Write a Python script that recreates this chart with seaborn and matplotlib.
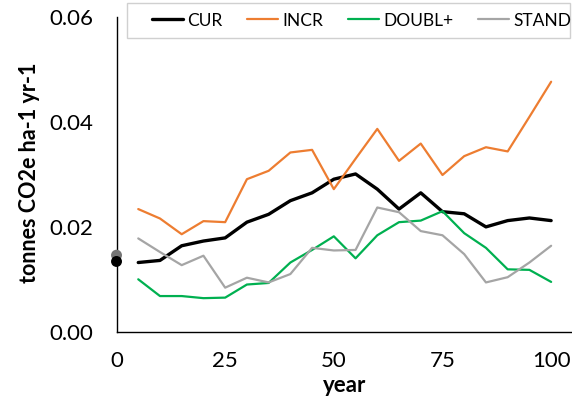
import matplotlib
matplotlib.use("Agg")
import matplotlib.pyplot as plt
from matplotlib.patches import Rectangle
import seaborn as sns
import pandas as pd

sns.set_theme(style="white")
plt.rcParams["font.family"] = ["Lato", "DejaVu Sans"]

# Emissions per scenario, 5-year steps
years = [5, 10, 15, 20, 25, 30, 35, 40, 45, 50, 55, 60, 65, 70, 75, 80, 85, 90, 95, 100]
cur = [0.0132, 0.0136, 0.0164, 0.0173, 0.0179, 0.0209, 0.0224, 0.0250, 0.0265, 0.0291,
       0.0301, 0.0272, 0.0234, 0.0265, 0.0229, 0.0225, 0.0200, 0.0212, 0.0217, 0.0212]
incr = [0.0234, 0.0216, 0.0186, 0.0211, 0.0209, 0.0291, 0.0307, 0.0342, 0.0347, 0.0272,
        0.0330, 0.0387, 0.0326, 0.0359, 0.0299, 0.0335, 0.0352, 0.0344, 0.0410, 0.0477]
doubl = [0.0100, 0.0068, 0.0068, 0.0064, 0.0065, 0.0090, 0.0093, 0.0132, 0.0156, 0.0182,
         0.0140, 0.0184, 0.0209, 0.0212, 0.0230, 0.0188, 0.0160, 0.0119, 0.0118, 0.0095]
stand = [0.0178, 0.0152, 0.0127, 0.0145, 0.0084, 0.0103, 0.0094, 0.0110, 0.0160, 0.0155,
         0.0156, 0.0237, 0.0228, 0.0192, 0.0184, 0.0148, 0.0094, 0.0104, 0.0132, 0.0164]

# Starting values at year 0
start_kinds = ["STAND", "CUR"]
start_years = [0, 0]
start_vals = [0.0146, 0.0134]
start_colors = ["#757575", "#000000"]

series_names = ["CUR", "INCR", "DOUBL+", "STAND"]
series_vals = [cur, incr, doubl, stand]
colors = ["#000000", "#ed7d31", "#00b050", "#a5a5a5"]
widths = [2.4, 1.6, 1.6, 1.6]

fig = plt.figure(figsize=(5.72, 3.98), dpi=100)
ax = fig.add_axes([0.2037, 0.1666, 0.7963, 0.790])

for name, vals, c, lw in zip(series_names, series_vals, colors, widths):
    df = pd.DataFrame({"year": years, "value": vals})
    sns.lineplot(data=df, x="year", y="value", ax=ax, color=c, linewidth=lw, label=name)

pts = pd.DataFrame({"year": start_years, "value": start_vals, "kind": start_kinds})
sns.scatterplot(data=pts, x="year", y="value", hue="kind",
                palette=dict(zip(start_kinds, start_colors)),
                s=62, edgecolor="none", ax=ax, legend=False, zorder=5, clip_on=False)

ax.set_xlim(0, 104.8)
ax.set_ylim(0, 0.06)
ax.set_xticks([0, 25, 50, 75, 100])
ax.set_yticks([0.0, 0.02, 0.04, 0.06])
ax.set_yticklabels(["0.00", "0.02", "0.04", "0.06"])

for s in ["top", "right"]:
    ax.spines[s].set_visible(False)
for s in ["left", "bottom"]:
    ax.spines[s].set_color("#000000")
    ax.spines[s].set_linewidth(1.0)

ax.tick_params(axis="both", direction="in", length=6, width=1.0, color="#000000",
               labelsize=16, labelcolor="#000000")
ax.tick_params(axis="x", pad=14)
ax.tick_params(axis="y", pad=17)

ax.set_xlabel("year", fontsize=16, fontweight="bold", color="#000000", va="bottom")
ax.set_ylabel("tonnes CO2e ha-1 yr-1", fontsize=15.5, fontweight="bold", color="#000000")
ax.yaxis.set_label_coords(-0.167, 0.505)
ax.xaxis.set_label_coords(0.5, -0.2045)

ax.get_legend().remove()
handles, labels = ax.get_legend_handles_labels()

# Legend box across the top
fig.add_artist(Rectangle((127 / 572, 1 - 38 / 398), 443 / 572, 35 / 398,
                         transform=fig.transFigure, facecolor="white",
                         edgecolor="#d0d0d0", linewidth=1.0, zorder=3))
leg = fig.legend(handles[:4], labels[:4], loc="center left",
                 bbox_to_anchor=(152 / 572, 1 - 20.5 / 398),
                 ncol=4, frameon=False, fontsize=12.5, handlelength=1.8,
                 handletextpad=0.25, columnspacing=1.4, borderpad=0, borderaxespad=0)
leg.set_zorder(4)
for t in leg.get_texts():
    t.set_color("#000000")

fig.savefig("out.png", dpi=100)
